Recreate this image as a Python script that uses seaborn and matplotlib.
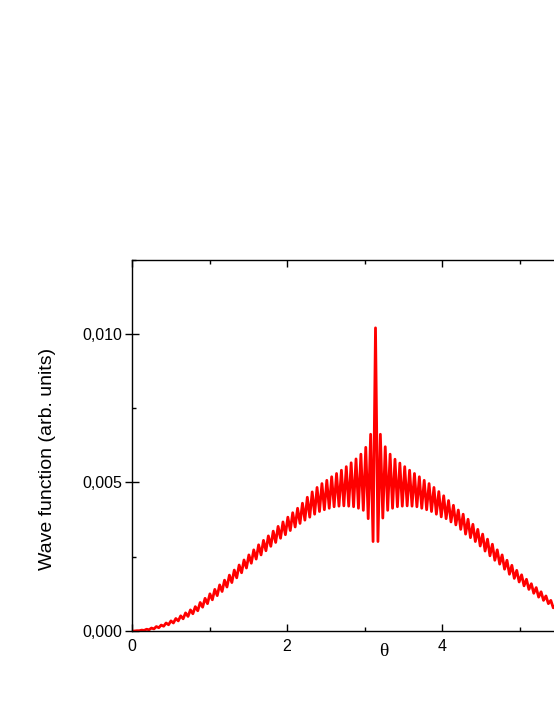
import numpy as np
import pandas as pd
import seaborn as sns
import matplotlib
matplotlib.use("Agg")
import matplotlib.pyplot as plt
from matplotlib.ticker import FuncFormatter, MultipleLocator, FixedLocator

# local maxima of the curve, at theta = k*pi/50 (k = 0..100)
peak_vals = [
    0.00000, 0.00001, 0.00003, 0.00006, 0.00010, 0.00015, 0.00020, 0.00027, 0.00034, 0.00042,
    0.00051, 0.00061, 0.00071, 0.00082, 0.00096, 0.00110, 0.00125, 0.00140, 0.00155, 0.00171,
    0.00188, 0.00205, 0.00222, 0.00239, 0.00256, 0.00273, 0.00290, 0.00305, 0.00320, 0.00336,
    0.00352, 0.00367, 0.00383, 0.00398, 0.00413, 0.00430, 0.00450, 0.00468, 0.00483, 0.00496,
    0.00507, 0.00519, 0.00530, 0.00541, 0.00553, 0.00566, 0.00579, 0.00595, 0.00618, 0.00662,
    0.01020,
    0.00662, 0.00620, 0.00595, 0.00578, 0.00565, 0.00553, 0.00541, 0.00530, 0.00519, 0.00507,
    0.00496, 0.00483, 0.00469, 0.00455, 0.00439, 0.00423, 0.00407, 0.00393, 0.00376, 0.00359,
    0.00342, 0.00326, 0.00309, 0.00292, 0.00273, 0.00256, 0.00238, 0.00221, 0.00204, 0.00189,
    0.00174, 0.00159, 0.00146, 0.00132, 0.00118, 0.00103, 0.00085, 0.00071, 0.00061, 0.00051,
    0.00042, 0.00034, 0.00027, 0.00020, 0.00015, 0.00010, 0.00006, 0.00003, 0.00001, 0.00000,
]

# local minima, half a period later (k + 0.5)
trough_vals = [
    0.00000, 0.00001, 0.00002, 0.00004, 0.00007, 0.00011, 0.00016, 0.00021, 0.00027, 0.00034,
    0.00041, 0.00049, 0.00058, 0.00068, 0.00080, 0.00092, 0.00105, 0.00119, 0.00133, 0.00148,
    0.00163, 0.00179, 0.00196, 0.00212, 0.00228, 0.00242, 0.00256, 0.00270, 0.00285, 0.00298,
    0.00312, 0.00324, 0.00338, 0.00350, 0.00362, 0.00373, 0.00383, 0.00393, 0.00402, 0.00408,
    0.00413, 0.00418, 0.00420, 0.00421, 0.00420, 0.00418, 0.00413, 0.00406, 0.00378, 0.00301,
    0.00301, 0.00380, 0.00406, 0.00413, 0.00418, 0.00420, 0.00421, 0.00420, 0.00418, 0.00413,
    0.00408, 0.00402, 0.00393, 0.00384, 0.00378, 0.00367, 0.00357, 0.00342, 0.00326, 0.00314,
    0.00301, 0.00286, 0.00269, 0.00253, 0.00238, 0.00225, 0.00208, 0.00191, 0.00177, 0.00165,
    0.00152, 0.00140, 0.00127, 0.00114, 0.00103, 0.00092, 0.00078, 0.00066, 0.00058, 0.00049,
    0.00041, 0.00034, 0.00027, 0.00021, 0.00016, 0.00011, 0.00007, 0.00004, 0.00002, 0.00001,
]

x_ticks = [0, 2, 4]
x_minor = [1, 3, 5]

step = np.pi / 100  # spacing between a max and the next min

psi = np.empty(len(peak_vals) + len(trough_vals))
psi[0::2] = peak_vals
psi[1::2] = trough_vals
df = pd.DataFrame({"theta": np.arange(len(psi)) * step, "psi": psi})

sns.set_style("ticks")
plt.rcParams["font.family"] = ["Liberation Sans", "DejaVu Sans"]

fig = plt.figure(figsize=(5.54, 7.17), dpi=100)
ax = fig.add_axes([132 / 554, 86 / 717, 487 / 554, 371.5 / 717])

sns.lineplot(data=df, x="theta", y="psi", color="#ff0000", linewidth=2.0,
             estimator=None, sort=False, ax=ax)

ax.set_xlim(0, 2 * np.pi)
ax.set_ylim(0, 0.0125)

ax.xaxis.set_major_locator(FixedLocator(x_ticks))
ax.xaxis.set_minor_locator(FixedLocator(x_minor))
ax.yaxis.set_major_locator(MultipleLocator(0.005))
ax.yaxis.set_minor_locator(MultipleLocator(0.0025))
ax.yaxis.set_major_formatter(FuncFormatter(lambda v, p: f"{v:.3f}".replace(".", ",")))

ax.tick_params(axis="x", which="major", direction="in", length=5, width=1,
               top=True, pad=6, labelsize=11.5, colors="black")
ax.tick_params(axis="x", which="minor", direction="in", length=3, width=1,
               top=True, colors="black")
ax.tick_params(axis="y", which="major", direction="inout", length=9.5, width=1,
               right=True, pad=2, labelsize=11.5, colors="black")
ax.tick_params(axis="y", which="minor", direction="in", length=3, width=1,
               right=True, colors="black")

for s in ax.spines.values():
    s.set_linewidth(1.0)
    s.set_color("black")

ax.set_xlabel("θ", fontsize=14, color="black", family=["Liberation Serif", "DejaVu Serif"])
ax.xaxis.set_label_coords(0.517, -0.054)
ax.xaxis.label.set_va("center")
ax.set_ylabel("Wave function (arb. units)", fontsize=14, color="black")
ax.yaxis.set_label_coords(-0.1745, 0.464)
ax.yaxis.label.set_va("center")

fig.savefig("out.png", dpi=100)
